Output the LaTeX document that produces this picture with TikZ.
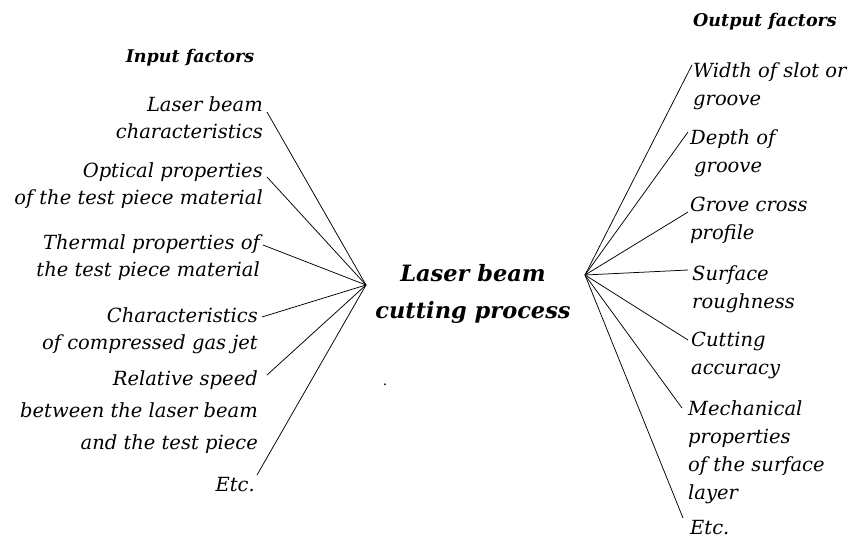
\documentclass[tikz,border=0pt]{standalone}
\usepackage{fontspec}
\setmainfont{DejaVu Serif}
\begin{document}
\begin{tikzpicture}[x=1pt,y=-1pt,
  lt/.style={font=\fontsize{19.5}{27}\selectfont\itshape, inner sep=0pt, align=right, anchor=north east},
  rt/.style={font=\fontsize{19.5}{28}\selectfont\itshape, inner sep=0pt, align=left, anchor=north west},
  head/.style={font=\fontsize{17.5}{20}\selectfont\bfseries\itshape, inner sep=0pt},
  main/.style={font=\fontsize{22.5}{37}\selectfont\bfseries\itshape, inner sep=0pt, align=center},
  conn/.style={draw=black, line width=0.75pt}]
\useasboundingbox (0,0) rectangle (855,541);
\fill[white] (0,0) rectangle (855,541);

\coordinate (hubL) at (366,285);
\coordinate (hubR) at (585,275);

\node[main] (proc) at (473,294) {Laser beam\\cutting process};
\node[inner sep=0pt, font=\fontsize{14}{14}\selectfont] (dot) at (385,385) {.};

\node[head] (inh) at (190,58) {Input factors};
\node[head] (outh) at (765,22) {Output factors};

% input factors
\node[lt] (i1) at (263,96) {Laser beam\\characteristics};
\node[lt] (i2) at (263,162) {Optical properties\\of the test piece material};
\node[lt] (i3) at (260,234) {Thermal properties of\\the test piece material};
\node[lt] (i4) at (258,307) {Characteristics\\of compressed gas jet};
\node[lt] (i5) at (258,370) {Relative speed\\[5pt]between the laser beam\\[5pt]and the test piece};
\node[lt] (i6) at (255,477) {Etc.};

\coordinate (ei1) at (267,112);
\coordinate (ei2) at (267,177);
\coordinate (ei3) at (263,245);
\coordinate (ei4) at (262,317);
\coordinate (ei5) at (267,375);
\coordinate (ei6) at (257,475);
\foreach \e in {ei1,ei2,ei3,ei4,ei5,ei6} \draw[conn] (\e) -- (hubL);

% output factors
\node[rt] (o1) at (693,62) {Width of slot or\\groove};
\node[rt] (o2) at (690,129) {Depth of\\\hspace*{4pt}groove};
\node[rt] (o3) at (690,197) {Grove cross\\profile};
\node[rt] (o4) at (692,265) {Surface\\roughness};
\node[rt] (o5) at (691,332) {Cutting\\accuracy};
\node[rt] (o6) at (688,400) {Mechanical\\properties\\of the surface\\layer};
\node[rt] (o7) at (690,520) {Etc.};

\coordinate (eo1) at (692,65);
\coordinate (eo2) at (688,132);
\coordinate (eo3) at (688,212);
\coordinate (eo4) at (688,270);
\coordinate (eo5) at (688,340);
\coordinate (eo6) at (682,408);
\coordinate (eo7) at (683,518);
\foreach \e in {eo1,eo2,eo3,eo4,eo5,eo6,eo7} \draw[conn] (hubR) -- (\e);
\end{tikzpicture}
\end{document}
